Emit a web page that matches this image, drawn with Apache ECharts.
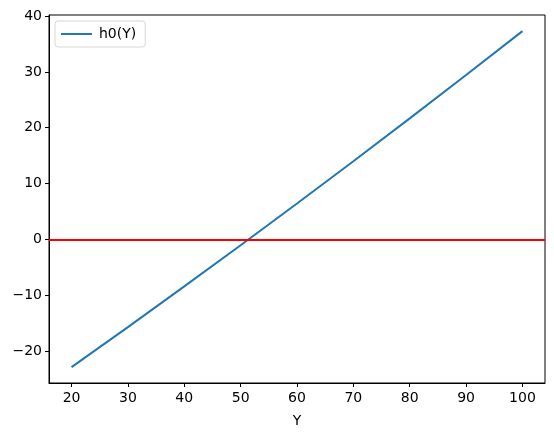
<!DOCTYPE html>
<html><head><meta charset="utf-8">
<script src="https://cdn.jsdelivr.net/npm/echarts@6/dist/echarts.min.js"></script>
<style>html,body{margin:0;padding:0;background:#fff}#c{width:554px;height:437px}</style>
</head><body><div id="c"></div>
<script>
const xValues = [20, 30, 40, 50, 60, 70, 80, 90, 100];
const h0Values = [-22.86, -15.69, -8.41, -1.04, 6.43, 14.00, 21.67, 29.43, 37.30];
const xTicks = [20, 30, 40, 50, 60, 70, 80, 90, 100];
const yTicks = [-20, -10, 0, 10, 20, 30, 40];
const seriesName = 'h0(Y)';
const xName = 'Y';

const font = 'DejaVu Sans';
const chart = echarts.init(document.getElementById('c'), null, {renderer: 'canvas'});
chart.setOption({
  animation: false,
  grid: {left: 49, right: 9, top: 15, bottom: 54, show: true, borderColor: '#000', borderWidth: 1, containLabel: false},
  legend: {
    left: 55, top: 21, orient: 'vertical',
    data: [{name: seriesName, icon: 'rect'}],
    itemWidth: 31, itemHeight: 2, itemGap: 8,
    padding: [6, 9, 6, 6],
    borderColor: '#d6d6d6', borderWidth: 1, borderRadius: 3,
    textStyle: {fontFamily: font, fontSize: 14, color: '#000', padding: [0, 0, 0, 2]}
  },
  xAxis: {
    type: 'value', min: 16, max: 104,
    name: xName, nameLocation: 'middle', nameGap: 31,
    nameTextStyle: {fontFamily: font, fontSize: 14, color: '#000'},
    axisLine: {show: true, onZero: false, lineStyle: {color: '#000', width: 1}},
    axisTick: {show: true, length: 4, lineStyle: {color: '#000'}, customValues: xTicks},
    axisLabel: {fontFamily: font, fontSize: 14, color: '#000', margin: 8, customValues: xTicks},
    splitLine: {show: false}
  },
  yAxis: {
    type: 'value', min: -25.7, max: 40.18,
    axisLine: {show: true, onZero: false, lineStyle: {color: '#000', width: 1}},
    axisTick: {show: true, length: 4, lineStyle: {color: '#000'}, customValues: yTicks},
    axisLabel: {fontFamily: font, fontSize: 14, color: '#000', margin: 7, customValues: yTicks,
      formatter: v => (v < 0 ? '\u2212' + Math.abs(v) : String(v))},
    splitLine: {show: false}
  },
  series: [{
    name: seriesName, type: 'line',
    data: xValues.map((x, i) => [x, h0Values[i]]),
    showSymbol: false, symbol: 'none',
    lineStyle: {color: '#1f77b4', width: 2},
    itemStyle: {color: '#1f77b4'},
    markLine: {
      silent: true, symbol: ['none', 'none'], label: {show: false},
      lineStyle: {color: '#ff0000', width: 2, type: 'solid'},
      data: [{yAxis: 0}]
    }
  }]
});
</script></body></html>
